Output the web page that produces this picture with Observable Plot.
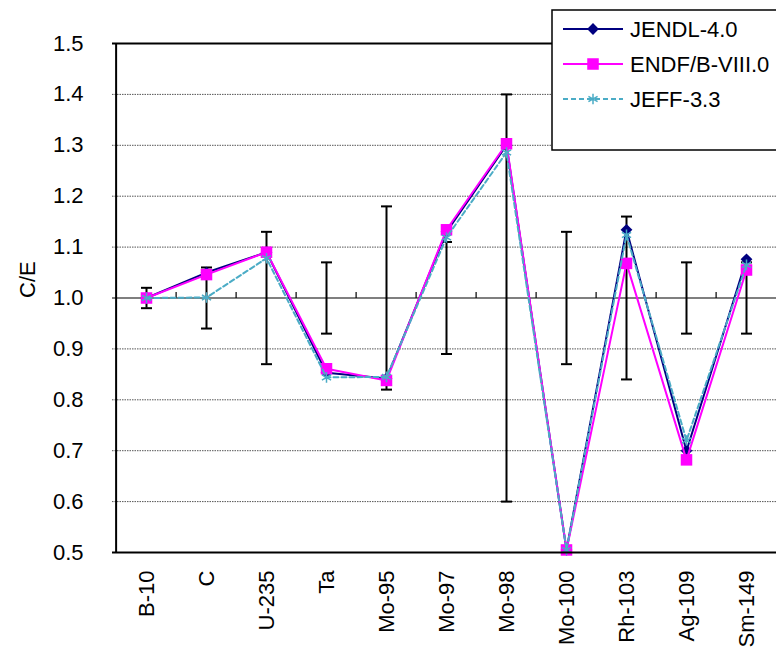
<!DOCTYPE html>
<html><head><meta charset="utf-8">
<script src="https://cdn.jsdelivr.net/npm/d3@7"></script>
<script src="https://cdn.jsdelivr.net/npm/@observablehq/plot@0.6"></script>
<style>
html,body{margin:0;padding:0;background:#fff;overflow:hidden}
#wrap{position:relative;width:776px;height:660px;overflow:hidden}
#legend{position:absolute;left:0;top:0}
#wrap svg text{font-size:22px !important;font-family:'Liberation Sans', Arial, sans-serif !important}
</style></head><body><div id="wrap"></div>
<script>
// ---- data ----
const nuclides = ["B-10","C","U-235","Ta","Mo-95","Mo-97","Mo-98","Mo-100","Rh-103","Ag-109","Sm-149"];
const jendl = [1.000,1.050,1.090,0.853,0.842,1.130,1.300,0.505,1.134,0.700,1.076];
const endf  = [1.000,1.046,1.090,0.861,0.838,1.134,1.303,0.505,1.068,0.682,1.055];
const jeff  = [1.000,1.001,1.078,0.844,0.845,1.119,1.286,0.505,1.124,0.720,1.065];
const errLow  = [0.98,0.94,0.87,0.93,0.82,0.89,0.60,0.87,0.84,0.93,0.93];
const errHigh = [1.02,1.06,1.13,1.07,1.18,1.11,1.40,1.13,1.16,1.07,1.07];
const yTicks = [0.5,0.6,0.7,0.8,0.9,1.0,1.1,1.2,1.3,1.4,1.5];
const gridLines = [0.6,0.7,0.8,0.9,1.1,1.2,1.3,1.4];
const seriesNames = ["JENDL-4.0","ENDF/B-VIII.0","JEFF-3.3"];
const seriesColors = ["#000080","#ff00ff","#4bacc6"];
const yLabel = "C/E";

// ---- layout ----
const W = 776, H = 660;
const pLeft = 112, pRight = 780.5, pTop = 43, pBottom = 552;
const step = (pRight - pLeft) / nuclides.length;
const FONT = "'Liberation Sans', Arial, sans-serif";
const FS = 22;

const rows = nuclides.map((n, i) => ({n, jendl: jendl[i], endf: endf[i], jeff: jeff[i], lo: errLow[i], hi: errHigh[i]}));

const capSymbol = {draw(ctx){ ctx.moveTo(-5.5, 0); ctx.lineTo(5.5, 0); }};
const tickSymbol = {draw(ctx){ ctx.moveTo(0, 0); ctx.lineTo(0, -6); }};

const chart = Plot.plot({
  width: W, height: H,
  marginLeft: pLeft, marginRight: 0, marginTop: pTop, marginBottom: H - pBottom,
  style: {fontFamily: FONT, fontSize: FS + "px", background: "#fff", overflow: "visible"},
  x: {type: "point", domain: nuclides, range: [pLeft, pRight], padding: 0.5},
  y: {domain: [0.5, 1.5], range: [pBottom, pTop]},
  marks: [
    Plot.ruleY(gridLines, {stroke: "#555", strokeWidth: 1, strokeDasharray: "1.5,1"}),
    Plot.ruleY([1.0], {stroke: "#000", strokeWidth: 1.2}),
    Plot.dot(nuclides.slice(1), {x: d => d, y: () => 1.0, dx: -step/2, symbol: tickSymbol, stroke: "#000", strokeWidth: 1.2, r: 3}),
    Plot.ruleX(rows, {x: "n", y1: "lo", y2: "hi", stroke: "#000", strokeWidth: 2}),
    Plot.dot(rows, {x: "n", y: "lo", symbol: capSymbol, stroke: "#000", strokeWidth: 2, r: 3}),
    Plot.dot(rows, {x: "n", y: "hi", symbol: capSymbol, stroke: "#000", strokeWidth: 2, r: 3}),
    Plot.line(rows, {x: "n", y: "jendl", stroke: seriesColors[0], strokeWidth: 2}),
    Plot.dot(rows, {x: "n", y: "jendl", symbol: "diamond2", fill: seriesColors[0], r: 5.3}),
    Plot.line(rows, {x: "n", y: "endf", stroke: seriesColors[1], strokeWidth: 2}),
    Plot.dot(rows, {x: "n", y: "endf", symbol: "square", fill: seriesColors[1], r: 6.5}),
    Plot.line(rows, {x: "n", y: "jeff", stroke: seriesColors[2], strokeWidth: 2, strokeDasharray: "5,3"}),
    Plot.dot(rows, {x: "n", y: "jeff", symbol: "asterisk", stroke: seriesColors[2], strokeWidth: 1.5, r: 5}),
    // frame: left, top, bottom
    Plot.ruleX([nuclides[0]], {dx: -step/2, y1: 0.5, y2: 1.5, stroke: "#000", strokeWidth: 2}),
    Plot.ruleY([0.5, 1.5], {stroke: "#000", strokeWidth: 2}),
    Plot.axisY(yTicks, {tickSize: 0, tickPadding: 29, tickFormat: d3.format(".1f"), fontSize: FS, label: null}),
    Plot.axisX(nuclides, {tickSize: 0, tickPadding: 18, tickRotate: -90, fontSize: FS, label: null}),
    Plot.text([yLabel], {frameAnchor: "left", dx: -85, rotate: -90, fontSize: FS, text: d => d})
  ]
});
document.getElementById("wrap").appendChild(chart);

// ---- legend ----
const lg = d3.select("#wrap").append("svg").attr("id", "legend")
  .attr("width", W).attr("height", 160).style("overflow", "visible");
lg.append("rect").attr("x", 552).attr("y", 10).attr("width", 240).attr("height", 140)
  .attr("fill", "#fff").attr("stroke", "#000").attr("stroke-width", 1.5);
const symbols = [d3.symbolDiamond2, d3.symbolSquare, d3.symbolAsterisk];
const sizes = [Math.PI*5.3*5.3, Math.PI*6.5*6.5, Math.PI*25];
seriesNames.forEach((name, i) => {
  const y = 29 + i * 35;
  const g = lg.append("g");
  g.append("line").attr("x1", 563).attr("x2", 623).attr("y1", y).attr("y2", y)
    .attr("stroke", seriesColors[i]).attr("stroke-width", 2)
    .attr("stroke-dasharray", i === 2 ? "5,3" : null);
  const p = g.append("path").attr("d", d3.symbol(symbols[i], sizes[i])()).attr("transform", `translate(593,${y})`);
  if (i === 2) p.attr("fill", "none").attr("stroke", seriesColors[i]).attr("stroke-width", 1.5);
  else p.attr("fill", seriesColors[i]);
  g.append("text").attr("x", 630).attr("y", y).attr("dy", "0.35em")
    .attr("font-family", FONT).attr("font-size", FS).attr("fill", "#000").text(name);
});
</script></body></html>
